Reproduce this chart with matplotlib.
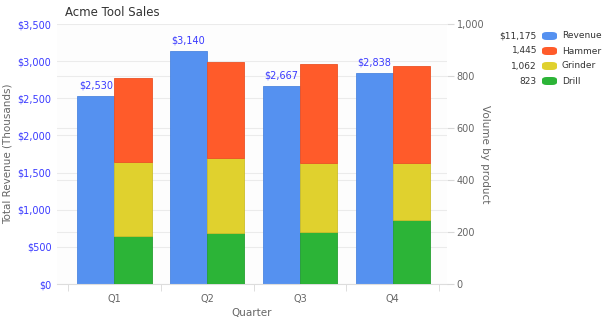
import matplotlib
matplotlib.use("Agg")
import matplotlib.pyplot as plt
from matplotlib.patches import FancyBboxPatch

quarters = ["Q1", "Q2", "Q3", "Q4"]
revenue = [2530, 3140, 2667, 2838]
hammer = [324, 367, 383, 371]
grinder = [285, 290, 266, 221]
drill = [183, 195, 199, 246]

left_ticks = [0, 500, 1000, 1500, 2000, 2500, 3000, 3500]
right_ticks = [0, 200, 400, 600, 800, 1000]

c_rev = "#5591f0"
c_ham = "#ff5b2a"
c_gri = "#e0d12e"
c_dri = "#2cb437"
blue_txt = "#3a3aff"
gray_txt = "#666666"

plt.rcParams["font.family"] = ["DejaVu Sans"]

fig = plt.figure(figsize=(6.04, 3.26), dpi=100)
ax = fig.add_axes([57 / 604, 1 - 284 / 326, 390 / 604, 260 / 326])
ax2 = ax.twinx()

x = list(range(len(quarters)))
w = 0.4

# left axis: revenue
bars = ax.bar([i - w / 2 for i in x], revenue, width=w, color=c_rev,
              edgecolor="#4d86e0", linewidth=0.6, zorder=2)
ax.bar_label(bars, labels=[f"${v:,}" for v in revenue], padding=4,
             color=blue_txt, fontsize=7)
ax.set_ylim(0, 3500)
ax.set_xlim(-0.619, 3.586)
ax.set_yticks(left_ticks)
ax.set_yticklabels([f"${v:,}" for v in left_ticks], color=blue_txt, fontsize=7)
# right-scale grid lines drawn behind the bars on the left axes
ax.set_yticks([v * 3500 / 1000 for v in right_ticks], minor=True)
ax.set_axisbelow(True)
ax.grid(axis="y", which="both", color="#ebebeb", linewidth=0.8)
ax.tick_params(axis="y", which="both", length=0, pad=4)
ax.set_ylabel("Total Revenue (Thousands)", color=gray_txt, fontsize=7.5)
ax.yaxis.set_label_coords(-0.115, 0.5)

ax.set_xticks(x)
ax.set_xticklabels(quarters, color=gray_txt, fontsize=7)
ax.set_xticks([i - 0.5 for i in range(len(quarters) + 1)], minor=True)
ax.tick_params(axis="x", which="major", length=0, pad=7)
ax.tick_params(axis="x", which="minor", length=5, color="#d8d8d8")
ax.set_xlabel("Quarter", color=gray_txt, fontsize=7.5, labelpad=3)
ax.set_facecolor("#fdfdfd")

for s in ["top", "left", "right"]:
    ax.spines[s].set_visible(False)
    ax2.spines[s].set_visible(False)
ax.spines["bottom"].set_color("#dddddd")
ax2.spines["bottom"].set_visible(False)

# right axis: stacked volume
xs = [i + w / 2 for i in x]
ax2.bar(xs, drill, width=w, color=c_dri, edgecolor="#27a032", linewidth=0.6)
ax2.bar(xs, grinder, width=w, bottom=drill, color=c_gri,
        edgecolor="#cdbf2a", linewidth=0.6)
base = [d + g for d, g in zip(drill, grinder)]
ax2.bar(xs, hammer, width=w, bottom=base, color=c_ham,
        edgecolor="#ec5226", linewidth=0.6)
ax2.set_ylim(0, 1000)
ax2.set_yticks(right_ticks)
ax2.set_yticklabels([f"{v:,}" for v in right_ticks], color=gray_txt, fontsize=7)
ax2.tick_params(axis="y", length=5, color="#d8d8d8", pad=2)
ax2.set_ylabel("Volume by product", color=gray_txt, fontsize=7.5,
               rotation=270)
ax2.yaxis.set_label_coords(1.11, 0.5)

fig.text(65 / 604, 1 - 13 / 326, "Acme Tool Sales", color="#333333",
         fontsize=8.5, va="center")

# legend with totals
items = [
    (f"${sum(revenue):,}", c_rev, "Revenue"),
    (f"{sum(hammer):,}", c_ham, "Hammer"),
    (f"{sum(grinder):,}", c_gri, "Grinder"),
    (f"{sum(drill):,}", c_dri, "Drill"),
]
for k, (val, col, name) in enumerate(items):
    yc = 1 - (36 + k * 15) / 326
    fig.text(537 / 604, yc, val, ha="right", va="center", fontsize=6.5,
             color="#333333")
    fig.patches.append(FancyBboxPatch(
        (542 / 604, yc - 4 / 326), 15 / 604, 8 / 326,
        boxstyle="round,pad=0,rounding_size=0.008", transform=fig.transFigure,
        facecolor=col, edgecolor="none"))
    fig.text(562 / 604, yc, name, ha="left", va="center", fontsize=6.5,
             color="#333333")

fig.savefig("out.png", dpi=100)
